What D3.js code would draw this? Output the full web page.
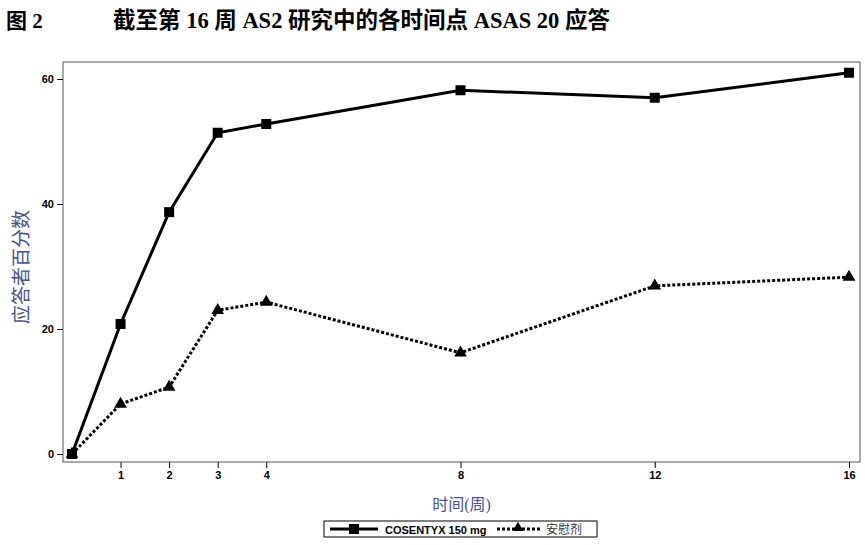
<!DOCTYPE html>
<html><head><meta charset="utf-8">
<script src="https://cdn.jsdelivr.net/npm/d3@7"></script>
<style>body{margin:0;background:#fff}</style>
</head><body><svg id="c" width="865" height="545"></svg>
<script>
const weeks = [0, 1, 2, 3, 4, 8, 12, 16];
const cosentyx = [0, 20.8, 38.7, 51.4, 52.8, 58.2, 57.0, 61.0];
const placebo = [0, 8.0, 10.7, 23.0, 24.3, 16.2, 26.9, 28.3];
const xTicks = [1, 2, 3, 4, 8, 12, 16];
const yTicks = [0, 20, 40, 60];

const svg = d3.select("#c");
const x = d3.scaleLinear().domain([0, 16]).range([72, 849]);
const y = d3.scaleLinear().domain([0, 60]).range([454, 79]);
const L = 63, T = 62, R = 860, B = 462;

svg.append("text").attr("x", 6).attr("y", 28).attr("font-family", "Liberation Serif, Noto Sans CJK SC")
  .attr("font-weight", "bold").attr("font-size", 21).text("图 2");
svg.append("text").attr("x", 113).attr("y", 28).attr("font-family", "Liberation Serif, Noto Sans CJK SC")
  .attr("font-weight", "bold").attr("font-size", 22.5).text("截至第 16 周 AS2 研究中的各时间点 ASAS 20 应答");

svg.append("rect").attr("x", L).attr("y", T).attr("width", R - L).attr("height", B - T)
  .attr("fill", "none").attr("stroke", "#555").attr("stroke-width", 1);

const xa = svg.append("g").attr("transform", `translate(0,${B})`)
  .call(d3.axisBottom(x).tickValues(xTicks).tickSize(6).tickFormat(d3.format("d")));
const ya = svg.append("g").attr("transform", `translate(${L},0)`)
  .call(d3.axisLeft(y).tickValues(yTicks).tickSize(6).tickFormat(d3.format("d")));
[xa, ya].forEach(g => {
  g.select(".domain").remove();
  g.selectAll("text").attr("font-family", "Liberation Sans, Arial").attr("font-weight", "bold")
    .attr("font-size", 11).attr("fill", "#000");
});

svg.append("text").attr("x", (L + R) / 2).attr("y", 510).attr("text-anchor", "middle")
  .attr("font-family", "Liberation Serif, Noto Sans CJK SC").attr("font-size", 16).attr("fill", "#4a5488")
  .text("时间(周)");
svg.append("text").attr("transform", "translate(28,267) rotate(-90)").attr("text-anchor", "middle")
  .attr("font-family", "Noto Sans CJK SC").attr("font-size", 19).attr("fill", "#4a5488")
  .text("应答者百分数");

const line = d3.line().x((d, i) => x(weeks[i])).y(d => y(d));
svg.append("path").datum(cosentyx).attr("d", line).attr("fill", "none").attr("stroke", "#000").attr("stroke-width", 3);
svg.append("path").datum(placebo).attr("d", line).attr("fill", "none").attr("stroke", "#000")
  .attr("stroke-width", 3).attr("stroke-dasharray", "3,2");

svg.selectAll(".sq").data(cosentyx).enter().append("rect")
  .attr("x", (d, i) => x(weeks[i]) - 5).attr("y", d => y(d) - 5).attr("width", 10).attr("height", 10).attr("fill", "#000");
const tri = d3.symbol().type(d3.symbolTriangle).size(70);
svg.selectAll(".tr").data(placebo).enter().append("path").attr("d", tri)
  .attr("transform", (d, i) => `translate(${x(weeks[i])},${y(d)})`).attr("fill", "#000");

// legend
const lg = svg.append("g");
lg.append("rect").attr("x", 324).attr("y", 521).attr("width", 273).attr("height", 16)
  .attr("fill", "#fff").attr("stroke", "#000");
lg.append("line").attr("x1", 330).attr("x2", 378).attr("y1", 529).attr("y2", 529).attr("stroke", "#000").attr("stroke-width", 3);
lg.append("rect").attr("x", 349).attr("y", 524).attr("width", 10).attr("height", 10).attr("fill", "#000");
lg.append("text").attr("x", 385).attr("y", 534).attr("font-family", "Liberation Sans, Arial").attr("font-weight", "bold")
  .attr("font-size", 11).text("COSENTYX 150 mg");
lg.append("line").attr("x1", 497).attr("x2", 540).attr("y1", 529).attr("y2", 529).attr("stroke", "#000")
  .attr("stroke-width", 3).attr("stroke-dasharray", "3,2");
lg.append("path").attr("d", d3.symbol().type(d3.symbolTriangle).size(50)).attr("transform", "translate(518,528)");
lg.append("text").attr("x", 546).attr("y", 534).attr("font-family", "Noto Sans CJK SC")
  .attr("font-size", 12).attr("fill", "#333").text("安慰剂");
</script></body></html>
